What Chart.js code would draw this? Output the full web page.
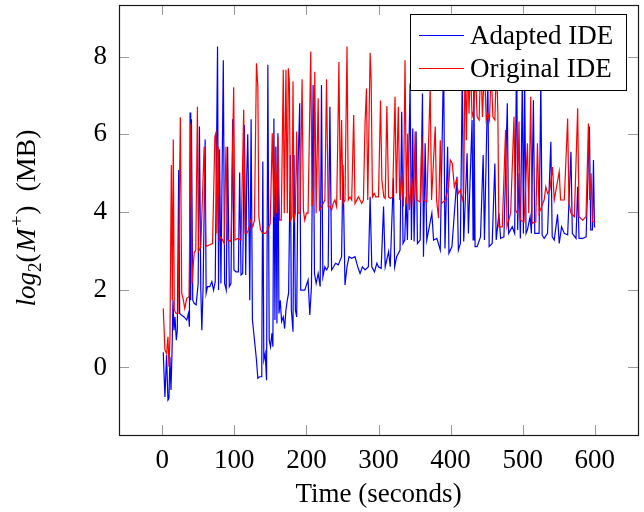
<!DOCTYPE html>
<html>
<head>
<meta charset="utf-8">
<script src="https://cdn.jsdelivr.net/npm/chart.js@4.4.1/dist/chart.umd.min.js"></script>
<style>
  html, body { margin: 0; padding: 0; background: #fff; }
  canvas { display: block; }
</style>
</head>
<body>
<canvas id="chart" width="644" height="512"></canvas>
<script>
// ─── data ───
const seriesNames = ["Adapted IDE", "Original IDE"];
const xTicks = [0, 100, 200, 300, 400, 500, 600];
const yTicks = [0, 2, 4, 6, 8];

const adaptedTime = [
  1.4, 3.7, 6.0, 7.9, 9.3, 10.7, 12.1, 13.5, 14.9, 16.3, 17.7, 19.5, 20.9, 22.8, 24.2, 26.5, 30.2, 34.0, 36.3, 37.7,
  38.6, 39.5, 40.5, 42.3, 44.2, 47.0, 49.8, 51.6, 53.5, 54.9, 56.7, 59.5, 60.9, 62.8, 66.0, 68.8, 71.2, 73.5, 76.7, 78.1,
  79.5, 81.4, 84.7, 86.5, 88.8, 90.7, 93.0, 95.3, 97.7, 99.5, 102.3, 105.6, 107.4, 109.3, 111.6, 114.0, 115.8, 117.2, 118.6, 120.5,
  121.4, 123.3, 125.1, 127.0, 128.4, 130.7, 132.6, 134.9, 137.2, 138.1, 139.5, 140.9, 142.8, 144.7, 146.5, 148.4, 150.2, 152.1, 153.5, 154.9,
  156.3, 157.7, 159.1, 160.5, 161.9, 163.7, 165.6, 167.9, 169.8, 171.6, 173.5, 175.3, 177.7, 179.1, 181.4, 182.8, 184.7, 186.5, 188.4, 190.7,
  192.1, 194.9, 197.7, 202.3, 204.7, 207.0, 209.3, 211.2, 213.5, 216.3, 219.1, 220.9, 222.8, 225.6, 227.9, 230.2, 232.6, 234.9, 237.7, 240.5,
  244.2, 248.8, 250.7, 253.5, 256.3, 259.1, 262.8, 267.4, 271.2, 274.4, 277.7, 281.4, 286.0, 288.4, 290.7, 294.4, 297.7, 300.0, 303.7, 307.0,
  309.3, 314.0, 316.3, 320.6, 322.4, 325.2, 329.9, 332.2, 334.0, 336.4, 338.2, 340.1, 343.8, 345.7, 347.5, 349.4, 352.2, 354.0, 357.8, 361.0,
  362.4, 364.7, 367.0, 374.0, 376.4, 381.0, 385.7, 390.3, 392.2, 395.9, 397.7, 401.9, 408.9, 410.8, 413.6, 416.3, 418.2, 422.9, 424.7, 429.8,
  431.2, 432.2, 434.0, 436.8, 441.5, 445.2, 447.0, 451.7, 453.5, 457.7, 461.4, 463.3, 467.0, 469.4, 474.0, 478.7, 480.5, 485.6, 488.9, 491.7,
  493.1, 494.9, 496.8, 499.6, 501.0, 502.8, 504.7, 506.6, 510.3, 512.1, 514.9, 516.8, 522.8, 525.2, 527.0, 529.8, 534.5, 539.1, 541.0, 543.8,
  548.4, 550.7, 554.0, 557.7, 562.4, 567.0, 568.9, 574.0, 576.3, 578.2, 583.3, 588.0, 592.6, 594.4, 596.8, 598.2, 599.6, 600.5
];
const adaptedMem = [
  0.39, -0.76, 0.32, -0.84, -0.80, 0.27, -0.58, 0.36, 1.73, 0.96, 1.30, 0.70, 0.96, 5.08, 1.39, 1.35, 1.30, 1.22, 1.39, 1.05,
  6.56, 1.73, 6.39, 1.73, 1.65, 1.61, 2.16, 6.20, 1.99, 0.96, 2.08, 5.87, 1.91, 2.08, 2.08, 2.21, 1.99, 2.21, 8.26, 1.99,
  5.61, 2.16, 7.91, 2.16, 1.99, 5.68, 2.08, 2.16, 6.39, 2.51, 2.46, 2.46, 5.02, 2.38, 2.42, 6.24, 2.38, 4.91, 6.00, 3.45,
  1.73, 6.39, 1.22, 0.88, 0.62, 0.19, -0.28, -0.24, -0.24, 0.23, 5.30, 0.19, 0.36, -0.33, 7.79, 0.70, 0.53, 0.88, 0.53, 6.41,
  1.22, 5.68, 1.13, 6.03, 1.39, 1.73, 1.18, 1.30, 1.00, 1.48, 1.73, 1.91, 5.47, 1.48, 0.92, 5.47, 1.48, 1.30, 5.17, 6.80,
  1.99, 1.99, 1.99, 2.25, 1.35, 2.08, 7.27, 2.42, 2.16, 2.42, 2.08, 7.27, 2.33, 2.59, 2.51, 2.59, 6.71, 2.51, 2.59, 2.68,
  2.64, 2.85, 5.21, 2.12, 2.59, 2.85, 2.81, 2.85, 2.59, 2.42, 2.59, 2.51, 2.59, 4.39, 2.59, 2.46, 2.68, 2.59, 2.55, 4.14,
  2.59, 2.98, 2.59, 4.87, 2.59, 2.85, 3.02, 6.58, 3.19, 3.28, 4.39, 3.28, 7.31, 3.28, 6.15, 3.24, 6.07, 3.19, 3.28, 7.05,
  2.85, 5.77, 3.28, 3.97, 3.28, 3.32, 3.02, 8.00, 3.06, 5.68, 2.94, 3.11, 4.91, 3.02, 3.19, 7.70, 3.24, 5.51, 3.45, 6.37,
  3.28, 7.60, 3.11, 3.11, 3.36, 5.47, 3.28, 7.50, 3.11, 3.19, 5.25, 3.28, 3.97, 3.32, 3.36, 6.80, 3.45, 3.62, 3.45, 8.20,
  3.54, 5.00, 3.32, 7.60, 3.45, 7.30, 3.45, 3.54, 3.88, 3.45, 6.88, 3.45, 3.45, 7.40, 3.41, 3.32, 3.45, 5.81, 3.36, 3.28,
  3.94, 3.19, 3.62, 3.45, 3.41, 5.55, 3.45, 3.32, 4.65, 3.32, 3.32, 3.36, 6.20, 3.54, 3.54, 5.34, 3.62, 3.62
];

const originalTime = [
  1.4, 3.7, 6.0, 7.9, 9.3, 10.7, 12.6, 14.0, 15.3, 16.7, 19.1, 21.9, 25.1, 27.0, 29.3, 31.2, 34.0, 37.2, 39.5, 41.4,
  44.2, 46.5, 48.8, 50.2, 53.5, 58.1, 60.5, 65.1, 69.8, 73.0, 74.4, 75.8, 77.7, 79.1, 81.4, 86.0, 88.4, 90.7, 95.3, 99.1,
  100.9, 104.7, 109.3, 113.0, 114.9, 117.2, 119.5, 122.3, 125.6, 127.9, 130.7, 132.6, 134.0, 136.3, 139.5, 143.3, 146.5, 149.8, 152.6, 154.9,
  156.7, 158.6, 160.5, 162.8, 165.1, 167.9, 169.3, 171.6, 173.5, 174.9, 176.3, 178.1, 180.0, 181.4, 182.8, 184.7, 186.5, 188.4, 191.2, 194.0,
  195.8, 197.7, 200.0, 202.3, 206.0, 207.9, 210.2, 211.6, 213.5, 216.3, 218.1, 220.9, 223.3, 225.6, 227.9, 230.2, 232.6, 234.9, 237.2, 239.5,
  241.9, 243.3, 245.1, 247.0, 248.8, 250.7, 253.5, 256.3, 258.1, 260.5, 262.8, 265.6, 267.4, 272.1, 274.4, 276.7, 279.1, 281.4, 283.3, 285.1,
  288.4, 289.8, 291.6, 294.0, 296.3, 300.0, 302.8, 304.7, 307.4, 309.3, 311.6, 314.0, 316.3, 319.6, 322.9, 324.7, 327.5, 329.4, 332.2, 334.5,
  336.8, 338.7, 340.5, 342.9, 346.1, 348.5, 350.8, 353.1, 357.8, 360.1, 362.4, 367.1, 371.7, 373.6, 378.7, 380.5, 383.3, 385.7, 387.5, 392.6,
  397.3, 399.6, 402.4, 405.2, 408.0, 410.8, 413.6, 416.3, 418.2, 420.1, 421.9, 423.8, 425.6, 427.5, 429.8, 432.2, 434.5, 436.8, 439.6, 441.9,
  444.2, 447.0, 449.4, 451.7, 454.0, 456.3, 458.7, 461.4, 463.8, 465.6, 467.0, 471.7, 476.3, 478.2, 483.3, 488.0, 489.8, 492.6, 494.9, 496.8,
  501.9, 506.6, 508.4, 511.2, 513.1, 518.2, 520.5, 522.8, 526.1, 529.8, 532.1, 534.5, 537.7, 541.4, 543.8, 550.7, 552.6, 557.7, 562.4, 564.2,
  567.0, 571.7, 576.3, 578.2, 583.3, 587.9, 591.2, 593.0, 594.9, 596.8, 600.5
];
const originalMem = [
  1.52, 0.45, 0.36, 0.79, 0.02, 0.79, 5.21, 1.73, 5.87, 1.48, 1.39, 1.39, 6.44, 1.91, 1.73, 1.52, 1.78, 1.82, 6.28, 2.16,
  2.94, 3.02, 6.71, 2.98, 3.11, 5.68, 3.11, 3.15, 3.19, 5.94, 6.03, 3.45, 5.68, 3.28, 3.36, 3.19, 5.68, 3.28, 3.24, 7.21,
  3.28, 3.32, 3.28, 6.63, 3.45, 3.45, 3.54, 3.79, 3.62, 3.79, 7.83, 7.23, 3.88, 3.54, 3.45, 3.45, 3.54, 3.71, 6.03, 3.88,
  5.68, 3.97, 5.94, 3.79, 3.79, 7.66, 3.97, 7.66, 3.97, 7.70, 7.36, 3.79, 3.88, 7.36, 3.79, 3.97, 6.07, 3.97, 3.97, 7.42,
  4.05, 3.79, 3.97, 3.97, 8.13, 4.14, 4.65, 7.61, 3.97, 6.93, 4.05, 4.14, 4.22, 4.31, 7.42, 4.14, 4.14, 4.05, 4.22, 4.31,
  4.14, 5.64, 7.86, 4.31, 6.37, 4.22, 4.31, 8.26, 4.31, 4.39, 4.31, 6.50, 4.22, 4.39, 4.31, 4.22, 4.31, 6.33, 7.18, 4.31,
  8.10, 7.40, 4.39, 4.48, 4.39, 4.39, 6.87, 4.82, 4.39, 4.35, 6.73, 4.39, 4.35, 4.39, 6.97, 4.48, 6.71, 4.31, 4.98, 4.14,
  7.91, 4.22, 6.02, 4.05, 4.91, 4.14, 6.07, 4.31, 4.26, 5.94, 4.31, 4.26, 7.23, 4.31, 6.20, 4.31, 3.84, 5.85, 4.22, 4.31,
  4.65, 5.34, 5.25, 4.65, 4.82, 4.48, 4.56, 4.31, 4.48, 8.00, 5.85, 8.10, 6.54, 7.90, 6.45, 6.62, 7.70, 6.45, 6.37, 8.00,
  6.45, 7.80, 6.37, 6.54, 6.37, 7.70, 6.45, 6.37, 7.90, 6.54, 3.62, 3.62, 6.11, 3.62, 3.97, 6.45, 4.05, 3.97, 6.33, 3.79,
  3.75, 5.77, 3.97, 6.97, 3.71, 3.75, 5.77, 3.97, 4.14, 4.31, 4.65, 4.48, 4.56, 5.16, 4.31, 5.04, 4.31, 4.31, 6.41, 4.22,
  3.97, 3.88, 6.67, 3.88, 3.79, 3.88, 6.28, 4.31, 5.00, 3.75, 3.75
];

const serif = "'Liberation Serif', 'DejaVu Serif', serif";
const BLUE = "#0000ff";
const RED = "#ff0000";

function toPoints(ts, vs) {
  return ts.map((t, i) => ({ x: t, y: vs[i] }));
}

// ─── frame, inward ticks, legend and axis titles (pgfplots look) ───
const pgfLook = {
  id: "pgfLook",
  afterDraw(chart) {
    const { ctx, chartArea: a, scales } = chart;
    const xs = scales.x, ys = scales.y;
    const tl = 10;

    ctx.save();
    ctx.strokeStyle = "#9a9a9a";
    ctx.lineWidth = 1;
    ctx.beginPath();
    xTicks.forEach(v => {
      const px = Math.round(xs.getPixelForValue(v)) + 0.5;
      ctx.moveTo(px, a.bottom); ctx.lineTo(px, a.bottom - tl);
      ctx.moveTo(px, a.top); ctx.lineTo(px, a.top + tl);
    });
    yTicks.forEach(v => {
      const py = Math.round(ys.getPixelForValue(v)) + 0.5;
      ctx.moveTo(a.left, py); ctx.lineTo(a.left + tl, py);
      ctx.moveTo(a.right, py); ctx.lineTo(a.right - tl, py);
    });
    ctx.stroke();

    // frame
    ctx.strokeStyle = "#1a1a1a";
    ctx.lineWidth = 1.2;
    ctx.strokeRect(a.left + 0.5, a.top + 0.5, a.right - a.left, a.bottom - a.top);

    // legend box
    const lx = 410.5, ly = 14.5, lw = 216, lh = 76;
    ctx.fillStyle = "#fff";
    ctx.fillRect(lx, ly, lw, lh);
    ctx.strokeStyle = "#000";
    ctx.lineWidth = 1;
    ctx.strokeRect(lx, ly, lw, lh);
    const colors = [BLUE, RED];
    const rowY = [35, 68];
    ctx.font = "27px " + serif;
    ctx.textBaseline = "alphabetic";
    ctx.textAlign = "left";
    seriesNames.forEach((name, i) => {
      ctx.strokeStyle = colors[i];
      ctx.beginPath();
      ctx.moveTo(419, rowY[i] + 0.5);
      ctx.lineTo(464, rowY[i] + 0.5);
      ctx.stroke();
      ctx.fillStyle = "#000";
      ctx.fillText(name, 470, rowY[i] + 8.5);
    });

    // x title
    ctx.fillStyle = "#000";
    ctx.textAlign = "center";
    ctx.font = "27px " + serif;
    ctx.fillText("Time (seconds)", (a.left + a.right) / 2, 502);

    // y title: log_2(M^+) (MB)
    const pieces = [
      { t: "log", f: "italic 27px " + serif, dy: 0 },
      { t: "2", f: "19px " + serif, dy: 6 },
      { t: "(", f: "27px " + serif, dy: 0, pad: 2 },
      { t: "M", f: "italic 28px " + serif, dy: 0, pad: 2 },
      { t: "+", f: "19px " + serif, dy: -12, pad: 1 },
      { t: ")", f: "27px " + serif, dy: 0, pad: 14 },
      { t: "(MB)", f: "28px " + serif, dy: 0 }
    ];
    let total = 0;
    pieces.forEach(p => {
      ctx.font = p.f;
      p.w = ctx.measureText(p.t).width + (p.pad || 0);
      total += p.w;
    });
    ctx.translate(27, 218);
    ctx.rotate(-Math.PI / 2);
    ctx.textAlign = "left";
    let cx = -total / 2;
    pieces.forEach(p => {
      ctx.font = p.f;
      ctx.fillText(p.t, cx, 8 + p.dy);
      cx += p.w;
    });
    ctx.restore();
  }
};

new Chart(document.getElementById("chart"), {
  type: "scatter",
  data: {
    datasets: [
      {
        label: seriesNames[0],
        data: toPoints(adaptedTime, adaptedMem),
        showLine: true,
        borderColor: BLUE,
        borderWidth: 1.2,
        pointRadius: 0,
        tension: 0,
        order: 2
      },
      {
        label: seriesNames[1],
        data: toPoints(originalTime, originalMem),
        showLine: true,
        borderColor: RED,
        borderWidth: 1.2,
        pointRadius: 0,
        tension: 0,
        order: 1
      }
    ]
  },
  options: {
    responsive: false,
    animation: false,
    devicePixelRatio: 1,
    layout: { padding: { top: 5, right: 6, left: 0, bottom: 0 } },
    plugins: { legend: { display: false }, tooltip: { enabled: false } },
    scales: {
      x: {
        type: "linear",
        min: -60,
        max: 660,
        grid: { display: false, drawTicks: false },
        border: { display: false },
        afterBuildTicks: s => { s.ticks = xTicks.map(v => ({ value: v })); },
        afterFit: s => { s.height = 77; s.paddingLeft = 0; s.paddingRight = 0; },
        ticks: { color: "#000", padding: 10, maxRotation: 0, font: { family: serif, size: 27 } }
      },
      y: {
        type: "linear",
        min: -1.74,
        max: 9.33,
        grid: { display: false, drawTicks: false },
        border: { display: false },
        afterBuildTicks: s => { s.ticks = yTicks.map(v => ({ value: v })); },
        afterFit: s => { s.width = 119; s.paddingTop = 0; s.paddingBottom = 0; },
        ticks: { color: "#000", padding: 12, font: { family: serif, size: 27 } }
      }
    }
  },
  plugins: [pgfLook]
});
</script>
</body>
</html>
